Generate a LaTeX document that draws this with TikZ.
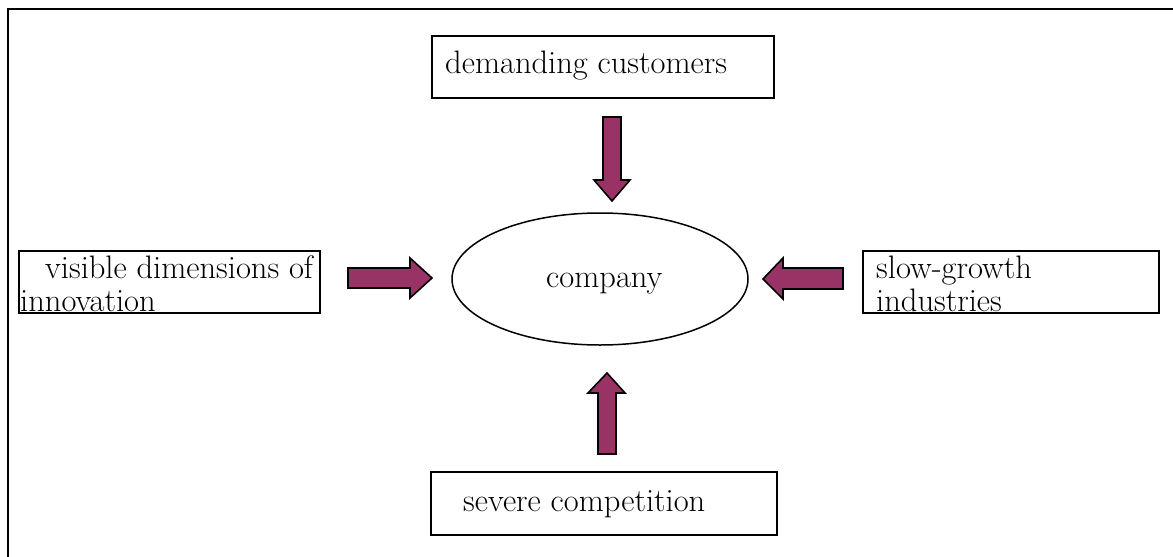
\documentclass[tikz,border=0pt]{standalone}
\usetikzlibrary{shapes.geometric}
\definecolor{plum}{HTML}{993366}
\begin{document}
\begin{tikzpicture}[x=1pt,y=-1pt,
  box/.style={draw=black, line width=1.6pt, rectangle, inner sep=0pt},
  txt/.style={inner sep=0pt, anchor=base west, font=\fontsize{32.5}{38}\selectfont},
  blockarrow/.style={draw=black, line width=1.6pt, fill=plum, line join=miter}]
\useasboundingbox (0,0) rectangle (1173,557);
% outer frame (only top and left edges visible)
\coordinate (frameTL) at (8,9);
\coordinate (frameTR) at (1175,9);
\coordinate (frameBL) at (8,559);
\draw[line width=2pt] (frameTR) -- (frameTL) -- (frameBL);
% boxes
\node[box, minimum width=342, minimum height=62] (top) at (603,67) {};
\node[txt] (toptext) at (445,73) {demanding customers};
\node[box, minimum width=301, minimum height=62] (left) at (169.5,282) {};
\node[txt] (lefttext1) at (45,278) {visible dimensions of};
\node[txt] (lefttext2) at (20,311) {innovation};
\node[box, minimum width=296, minimum height=62] (right) at (1011,282) {};
\node[txt] (righttext1) at (876,278) {slow-growth};
\node[txt] (righttext2) at (876,311) {industries};
\node[box, minimum width=346, minimum height=63] (bottom) at (604,503.5) {};
\node[txt] (bottomtext) at (463,511) {severe competition};
% centre
\node[draw=black, line width=1.5pt, ellipse, minimum width=296, minimum height=132, inner sep=0pt] (company) at (600,279) {};
\node[txt] (companytext) at (546,287) {company};
% block arrows
\draw[blockarrow] (603,117) -- (621,117) -- (621,180) -- (630,180) -- (612,201) -- (594,180) -- (603,180) -- cycle;
\draw[blockarrow] (348,268) -- (410,268) -- (410,258) -- (432,278) -- (410,298) -- (410,288) -- (348,288) -- cycle;
\draw[blockarrow] (843,268) -- (783,268) -- (783,258) -- (763,279) -- (783,299) -- (783,289) -- (843,289) -- cycle;
\draw[blockarrow] (598,454) -- (598,393) -- (588,393) -- (607,373) -- (625,393) -- (616,393) -- (616,454) -- cycle;
\end{tikzpicture}
\end{document}
